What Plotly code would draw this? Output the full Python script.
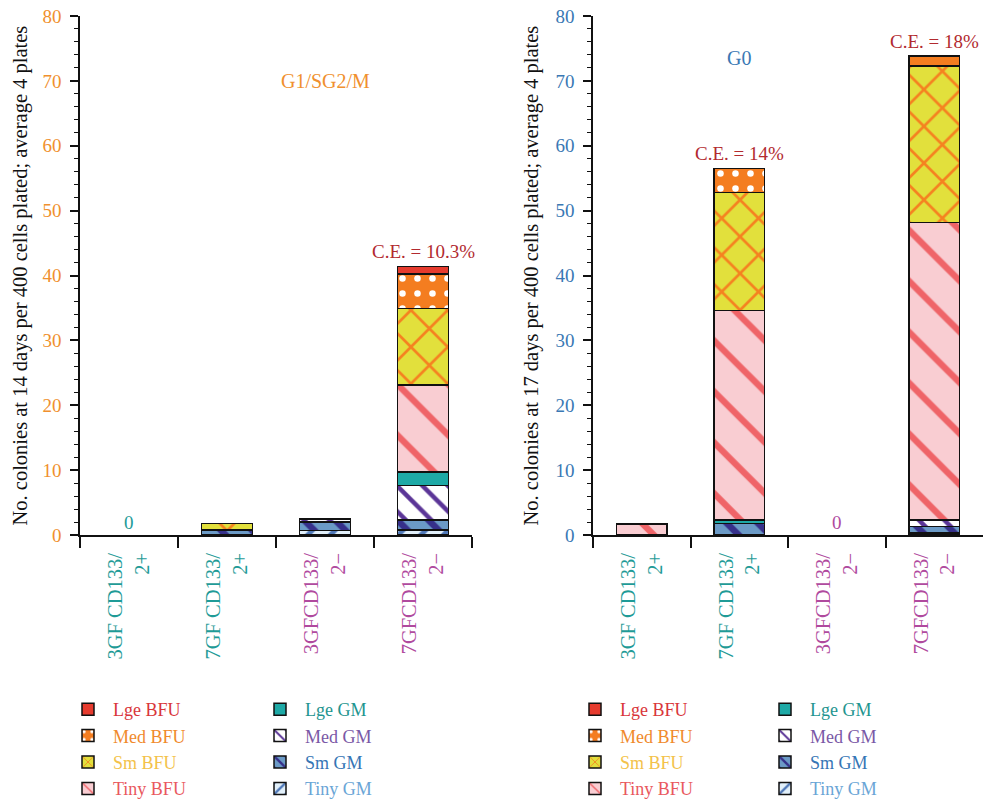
import plotly.graph_objects as go

W, H = 989, 808

categories = ["3GF CD133/2+", "7GF CD133/2+", "3GFCD133/2\u2212", "7GFCD133/2\u2212"]
tick_lines = [("3GF CD133/", "2+"), ("7GF CD133/", "2+"), ("3GFCD133/", "2\u2212"), ("7GFCD133/", "2\u2212")]
tick_colors = ["#1f9b97", "#1f9b97", "#b04a9e", "#b04a9e"]

series_names = ["Tiny GM", "Sm GM", "Med GM", "Lge GM", "Tiny BFU", "Sm BFU", "Med BFU", "Lge BFU"]

# Left panel: G1/SG2/M (14 days)
g1_tiny_gm = [0, 0, 0.7, 0.8]
g1_sm_gm = [0, 0.8, 1.3, 1.5]
g1_med_gm = [0, 0, 0.5, 5.3]
g1_lge_gm = [0, 0, 0, 2.1]
g1_tiny_bfu = [0, 0, 0, 13.4]
g1_sm_bfu = [0, 1.0, 0, 11.8]
g1_med_bfu = [0, 0, 0, 5.3]
g1_lge_bfu = [0, 0, 0, 1.2]

# Right panel: G0 (17 days)
g0_tiny_gm = [0, 0, 0, 0.3]
g0_sm_gm = [0, 1.8, 0, 1.0]
g0_med_gm = [0, 0, 0, 1.0]
g0_lge_gm = [0, 0.5, 0, 0]
g0_tiny_bfu = [1.7, 32.3, 0, 45.9]
g0_sm_bfu = [0, 18.2, 0, 24.1]
g0_med_bfu = [0, 3.7, 0, 1.5]
g0_lge_bfu = [0, 0, 0, 0]

g1_ce = ["", "", "", "C.E. = 10.3%"]
g0_ce = ["", "C.E. = 14%", "", "C.E. = 18%"]

g1_series = [g1_tiny_gm, g1_sm_gm, g1_med_gm, g1_lge_gm, g1_tiny_bfu, g1_sm_bfu, g1_med_bfu, g1_lge_bfu]
g0_series = [g0_tiny_gm, g0_sm_gm, g0_med_gm, g0_lge_gm, g0_tiny_bfu, g0_sm_bfu, g0_med_bfu, g0_lge_bfu]

styles = {
    "Lge BFU": dict(bg="#e63b2e", shape="", fg="#e63b2e", size=8, sol=0.3, txt="#d9363a"),
    "Med BFU": dict(bg="#f47d20", shape=".", fg="#ffffff", size=15, sol=0.15, txt="#f08a2c"),
    "Sm BFU": dict(bg="#e2e03c", shape="x", fg="#f58220", size=26, sol=0.2, txt="#f3c24a"),
    "Tiny BFU": dict(bg="#f9cdd2", shape="\\", fg="#ef6468", size=36, sol=0.18, txt="#e9585e"),
    "Lge GM": dict(bg="#1ea9a6", shape="", fg="#1ea9a6", size=8, sol=0.3, txt="#1f9590"),
    "Med GM": dict(bg="#ffffff", shape="\\", fg="#5b3597", size=18, sol=0.25, txt="#7a58a6"),
    "Sm GM": dict(bg="#6b9ac6", shape="\\", fg="#36308a", size=22, sol=0.3, txt="#3575b5"),
    "Tiny GM": dict(bg="#e2f0fa", shape="/", fg="#4f78b8", size=16, sol=0.3, txt="#6aa5d6"),
}

FONT = "Liberation Serif, Times New Roman, serif"

fig = go.Figure()


def add_panel(series, xa, ya, leg_bfu, leg_gm):
    for name, vals in zip(series_names, series):
        s = styles[name]
        fig.add_trace(go.Bar(
            x=categories,
            y=[v if v else None for v in vals],
            name="<span style='color:%s'>%s</span>" % (s["txt"], name),
            xaxis=xa, yaxis=ya,
            legend=leg_bfu if "BFU" in name else leg_gm,
            marker=dict(
                color=s["bg"],
                line=dict(color="#111111", width=1.5),
                pattern=dict(shape=s["shape"], bgcolor=s["bg"], fgcolor=s["fg"],
                             size=s["size"], solidity=s["sol"], fillmode="replace"),
            ),
            hoverinfo="x+y+name",
        ))


add_panel(g1_series, "x", "y", "legend", "legend2")
add_panel(g0_series, "x2", "y2", "legend3", "legend4")

ticktext = ["<span style='color:%s'>%s</span><br><span style='color:%s'>%s</span>" % (c, a, c, b)
            for (a, b), c in zip(tick_lines, tick_colors)]

ydom = [1 - 535 / H, 1 - 16 / H]


def xaxis(dom):
    return dict(domain=dom, type="category", categoryorder="array", categoryarray=categories,
                tickmode="array", tickvals=categories, ticktext=ticktext,
                tickson="boundaries", ticks="outside", ticklen=11, tickwidth=1.5, tickcolor="#111",
                showline=True, linecolor="#111", linewidth=1.5, tickangle=-90,
                tickfont=dict(family=FONT, size=20.5), ticklabelstandoff=8,
                showgrid=False, zeroline=False, automargin=False, range=[-0.5, 3.5], fixedrange=True)


def yaxis(anchor, color):
    return dict(domain=ydom, anchor=anchor, range=[0, 80], dtick=10, tick0=0,
                ticks="outside", ticklen=8, tickwidth=1.5, tickcolor="#111",
                minor=dict(dtick=2, ticks="outside", ticklen=4, tickwidth=1.2, tickcolor="#111"),
                showline=True, linecolor="#111", linewidth=1.5,
                tickfont=dict(family=FONT, size=19, color=color), ticklabelstandoff=5,
                showgrid=False, zeroline=False, automargin=False, fixedrange=True)


leg_common = dict(bgcolor="rgba(0,0,0,0)", borderwidth=0, traceorder="reversed",
                  font=dict(family=FONT, size=18), itemwidth=40, xanchor="left", yanchor="top",
                  orientation="v", itemclick=False, itemdoubleclick=False)

ann = []
for cat, txt, tot in zip(categories, g1_ce, [sum(v) for v in zip(*g1_series)]):
    if txt:
        ann.append(dict(x=cat, y=tot, xref="x", yref="y", text=txt, showarrow=False,
                        yanchor="bottom", yshift=2, font=dict(family=FONT, size=19, color="#b22a2f")))
for cat, txt, tot in zip(categories, g0_ce, [sum(v) for v in zip(*g0_series)]):
    if txt:
        ann.append(dict(x=cat, y=tot, xref="x2", yref="y2", text=txt, showarrow=False,
                        yanchor="bottom", yshift=2, font=dict(family=FONT, size=19, color="#b22a2f")))

ann += [
    dict(x=categories[0], y=0, xref="x", yref="y", text="0", showarrow=False, yanchor="bottom", yshift=0,
         font=dict(family=FONT, size=19, color="#1f9b97")),
    dict(x=categories[2], y=0, xref="x2", yref="y2", text="0", showarrow=False, yanchor="bottom", yshift=0,
         font=dict(family=FONT, size=19, color="#b04a9e")),
    dict(x=categories[2], y=70, xref="x", yref="y", text="G1/SG2/M", showarrow=False,
         font=dict(family=FONT, size=20, color="#f0902e")),
    dict(x=categories[1], y=73.6, xref="x2", yref="y2", text="G0", showarrow=False,
         font=dict(family=FONT, size=20, color="#3a78b4")),
    dict(x=20 / W, y=(ydom[0] + ydom[1]) / 2, xref="paper", yref="paper", textangle=-90, showarrow=False,
         xanchor="center", yanchor="middle",
         text="No. colonies at 14 days per 400 cells plated; average 4 plates",
         font=dict(family=FONT, size=20.5, color="#111")),
    dict(x=531 / W, y=(ydom[0] + ydom[1]) / 2, xref="paper", yref="paper", textangle=-90, showarrow=False,
         xanchor="center", yanchor="middle",
         text="No. colonies at 17 days per 400 cells plated; average 4 plates",
         font=dict(family=FONT, size=20.5, color="#111")),
]

legy = 1 - 691 / H
fig.update_layout(
    template="none",
    width=W, height=H, autosize=False,
    margin=dict(l=0, r=0, t=0, b=0),
    paper_bgcolor="white", plot_bgcolor="white",
    barmode="stack", bargap=0.48,
    font=dict(family=FONT, size=19, color="#111"),
    xaxis=xaxis([80 / W, 472 / W]),
    yaxis=yaxis("x", "#f0902e"),
    xaxis2=xaxis([593 / W, 983 / W]),
    yaxis2=yaxis("x2", "#3a78b4"),
    legend=dict(leg_common, x=63 / W, y=legy),
    legend2=dict(leg_common, x=255 / W, y=legy),
    legend3=dict(leg_common, x=570 / W, y=legy),
    legend4=dict(leg_common, x=760 / W, y=legy),
    annotations=ann,
    showlegend=True,
)

fig.write_html("out.html")
